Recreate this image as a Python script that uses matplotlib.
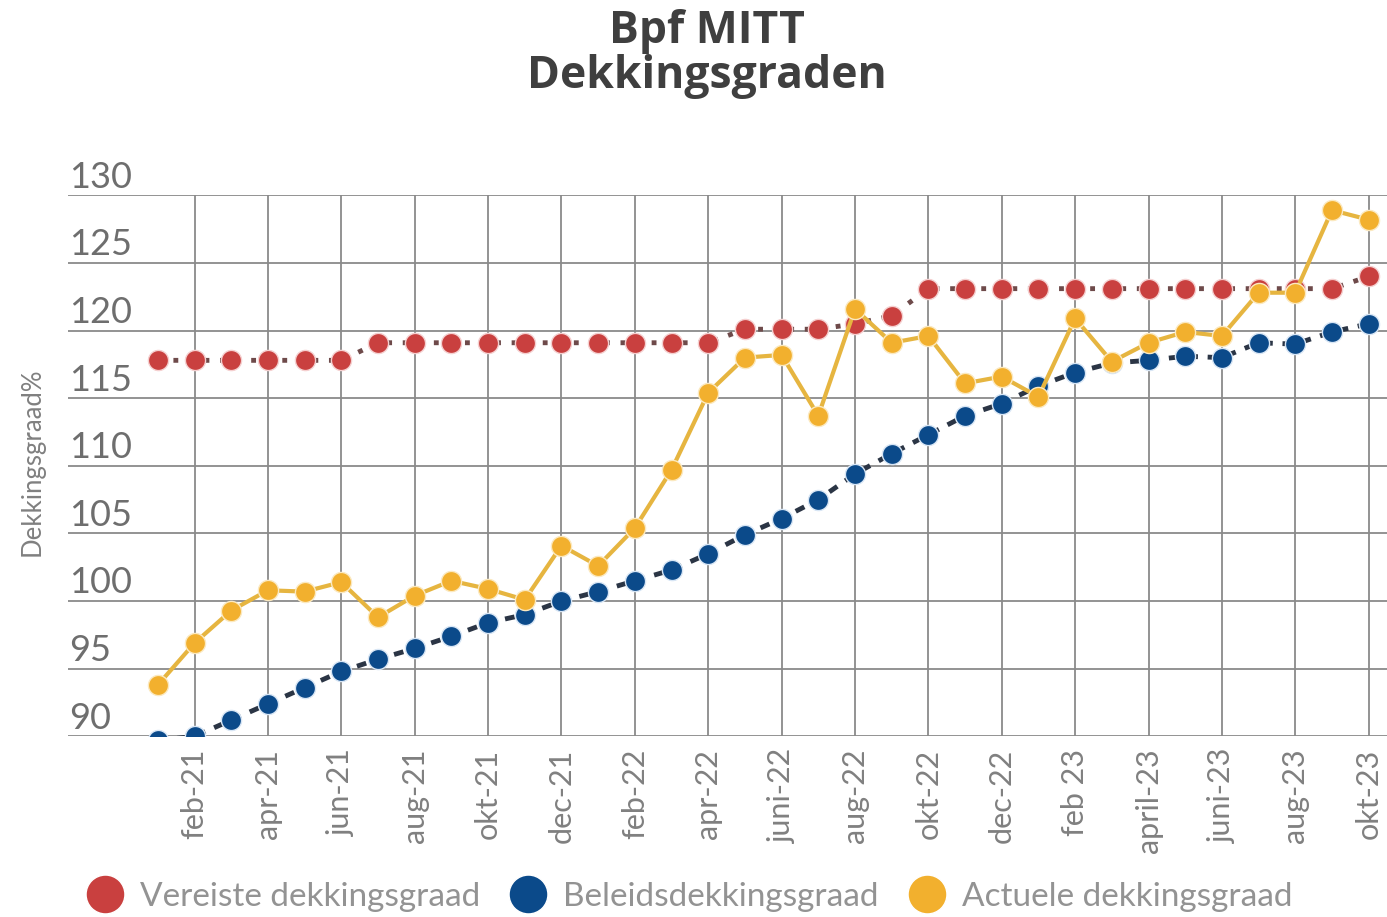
import matplotlib
matplotlib.use("Agg")
import matplotlib.pyplot as plt
import matplotlib.transforms as mtransforms
from matplotlib.lines import Line2D

# months jan-21 .. okt-23
months = list(range(34))
vereiste = [117.8, 117.8, 117.8, 117.8, 117.8, 117.8,
            119.1, 119.1, 119.1, 119.1, 119.1, 119.1, 119.1, 119.1, 119.1, 119.1,
            120.1, 120.1, 120.1, 120.5, 121.1,
            123.1, 123.1, 123.1, 123.1, 123.1, 123.1, 123.1, 123.1, 123.1, 123.1, 123.1, 123.1,
            124.0]
beleids = [89.7, 90.0, 91.2, 92.4, 93.6, 94.8, 95.7, 96.5, 97.4, 98.4, 99.0, 100.0,
           100.7, 101.5, 102.3, 103.5, 104.9, 106.1, 107.5, 109.4, 110.9, 112.3, 113.7, 114.6,
           115.9, 116.9, 117.6, 117.8, 118.1, 118.0, 119.1, 119.0, 119.9, 120.5]
actuele = [93.8, 96.9, 99.3, 100.8, 100.7, 101.4, 98.8, 100.4, 101.5, 100.9, 100.1, 104.1,
           102.6, 105.4, 109.7, 115.4, 118.0, 118.2, 113.7, 121.6, 119.1, 119.6, 116.1, 116.6,
           115.1, 120.9, 117.7, 119.1, 119.9, 119.6, 122.8, 122.8, 128.9, 128.2]

tick_pos = list(range(1, 34, 2))
tick_labels = ['feb-21', 'apr-21', 'jun-21', 'aug-21', 'okt-21', 'dec-21',
               'feb-22', 'apr-22', 'juni-22', 'aug-22', 'okt-22', 'dec-22',
               'feb 23', 'april-23', 'juni-23', 'aug-23', 'okt-23']
y_ticks = [90, 95, 100, 105, 110, 115, 120, 125, 130]

RED = '#c9403f'
BLUE = '#0b4a8a'
YELLOW = '#f2b02e'
GRAY = '#808080'
narrow = ['DejaVu Sans Condensed', 'Lato', 'DejaVu Sans']

fig = plt.figure(figsize=(13.87, 9.17), dpi=100)
ax = fig.add_axes([0.049, 0.197, 0.951, 0.590])

ms = 14.5
ax.plot(months, vereiste, linestyle=(0, (1, 2.2)), color='#6e4a4a', lw=3.5,
        marker='o', ms=ms, mfc=RED, mec='#f5d0d0', mew=1, zorder=3)
ax.plot(months, beleids, linestyle=(0, (2, 2)), color='#2b3545', lw=3.5,
        marker='o', ms=ms, mfc=BLUE, mec='#d8e6f5', mew=1, zorder=4)
ax.plot(months, actuele, linestyle='-', color='#e6b540', lw=3,
        marker='o', ms=ms, mfc=YELLOW, mec='#fbe9c0', mew=1, zorder=5)

ax.set_xlim(-2.45, 33.5)
ax.set_ylim(90, 130)
ax.set_yticks(y_ticks)
ax.set_yticklabels([])
ax.tick_params(axis='y', length=0)
ax.set_xticks(tick_pos)
ax.set_xticklabels(tick_labels, rotation=90, fontsize=22, color=GRAY, family=narrow)
ax.tick_params(axis='x', length=0, pad=9)
ax.grid(True, color='#8a8a8a', lw=1.3, zorder=0)
for s in ax.spines.values():
    s.set_visible(False)

trans = mtransforms.blended_transform_factory(ax.transAxes, ax.transData)
for v in y_ticks:
    ax.annotate(str(v), xy=(0.0, v), xycoords=trans, xytext=(1, 5.5),
                textcoords='offset points', ha='left', va='baseline',
                fontsize=26, color='#6e6e6e', family=narrow)

fig.text(0.023, 0.496, 'Dekkingsgraad%', rotation=90, ha='center', va='center',
         fontsize=18.5, color=GRAY, family=narrow)

fig.text(0.51, 0.99, 'Bpf MITT\nDekkingsgraden', ha='center', va='top',
         fontsize=32, fontweight='bold', color='#3f3f3f', family='Open Sans',
         linespacing=1.0)

handles = [Line2D([], [], ls='none', marker='o', ms=28, mfc=c, mec='white')
           for c in (RED, BLUE, YELLOW)]
labels = ['Vereiste dekkingsgraad', 'Beleidsdekkingsgraad', 'Actuele dekkingsgraad']
leg = fig.legend(handles, labels, loc='center', bbox_to_anchor=(0.497, 0.022), ncol=3,
                 frameon=False, prop={'family': narrow, 'size': 24},
                 handletextpad=0.5, columnspacing=0.9, handlelength=1.1,
                 borderaxespad=0, borderpad=0)
for t in leg.get_texts():
    t.set_color('#939393')

fig.savefig('out.png', dpi=100)
